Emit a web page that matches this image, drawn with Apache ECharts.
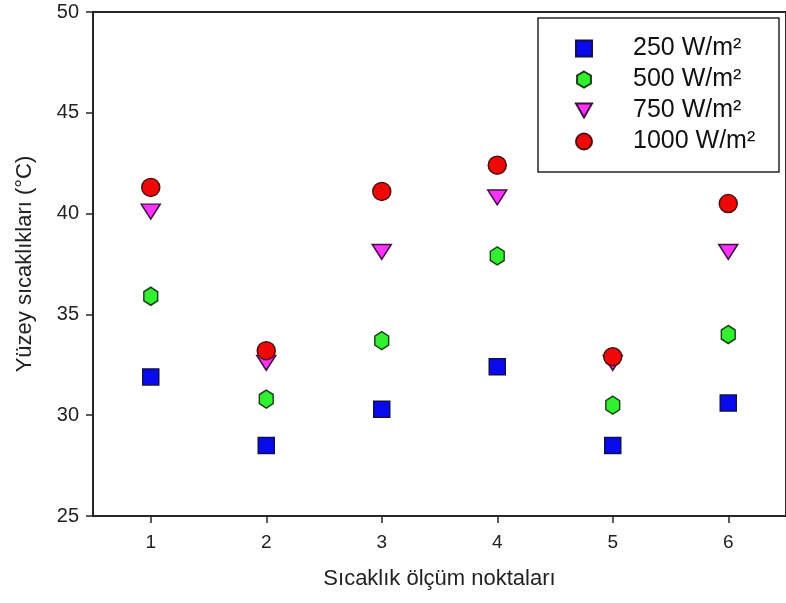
<!DOCTYPE html>
<html>
<head>
<meta charset="utf-8">
<script src="https://cdn.jsdelivr.net/npm/echarts@6/dist/echarts.min.js"></script>
<style>
  html, body { margin: 0; padding: 0; background: #fff; }
  #chart { width: 786px; height: 603px; }
</style>
</head>
<body>
<div id="chart"></div>
<script>
// Measurement points (x) and surface temperatures (°C) per irradiance level
const points = [1, 2, 3, 4, 5, 6];
const xTicks = ['1', '2', '3', '4', '5', '6'];
const yTicks = [25, 30, 35, 40, 45, 50];
const seriesNames = ['250 W/m²', '500 W/m²', '750 W/m²', '1000 W/m²'];
const temp250 = [31.9, 28.5, 30.3, 32.4, 28.5, 30.6];
const temp500 = [35.9, 30.8, 33.7, 37.9, 30.5, 34.0];
const temp750 = [40.1, 32.6, 38.1, 40.8, 32.6, 38.1];
const temp1000 = [41.3, 33.2, 41.1, 42.4, 32.9, 40.5];

const FONT = '"Liberation Sans", Arial, sans-serif';
const hexagon = 'path://M0,-1 L0.866,-0.5 L0.866,0.5 L0,1 L-0.866,0.5 L-0.866,-0.5 Z';
const triDown = 'path://M-1,-0.85 L1,-0.85 L0,0.9 Z';

function pairs(vals) {
  return points.map((p, i) => [p, vals[i]]);
}

function makeSeries(name, vals, symbol, size, fill, edge) {
  return {
    name: name,
    type: 'scatter',
    data: pairs(vals),
    symbol: symbol,
    symbolSize: size,
    symbolKeepAspect: true,
    itemStyle: { color: fill, borderColor: edge, borderWidth: 1.5, opacity: 1 },
    emphasis: { disabled: true }
  };
}

const chart = echarts.init(document.getElementById('chart'), null, { renderer: 'canvas' });

chart.setOption({
  animation: false,
  backgroundColor: '#ffffff',
  grid: {
    left: 93, right: -8, top: 12, bottom: 87,
    show: true, borderColor: '#262626', borderWidth: 2
  },
  xAxis: {
    type: 'value',
    min: 0.5, max: 6.5,
    interval: 1,
    name: 'Sıcaklık ölçüm noktaları',
    nameLocation: 'middle',
    nameGap: 52,
    nameTextStyle: { fontFamily: FONT, fontSize: 22, color: '#222' },
    axisLine: { show: true, onZero: false, lineStyle: { color: '#262626', width: 2 } },
    axisTick: {
      show: true, inside: false, length: 7,
      lineStyle: { color: '#262626', width: 1.5 },
      customValues: points
    },
    axisLabel: {
      fontFamily: FONT, fontSize: 19, color: '#222', margin: 17,
      customValues: points,
      formatter: v => xTicks[points.indexOf(v)] ?? ''
    },
    splitLine: { show: false }
  },
  yAxis: {
    type: 'value',
    min: yTicks[0], max: yTicks[yTicks.length - 1],
    interval: 5,
    name: 'Yüzey sıcaklıkları (°C)',
    nameLocation: 'middle',
    nameGap: 57,
    nameTextStyle: { fontFamily: FONT, fontSize: 22, color: '#222' },
    axisLine: { show: true, lineStyle: { color: '#262626', width: 2 } },
    axisTick: { show: true, inside: false, length: 7, lineStyle: { color: '#262626', width: 1.5 } },
    axisLabel: { fontFamily: FONT, fontSize: 20, color: '#222', margin: 14 },
    splitLine: { show: false }
  },
  graphic: [{
    type: 'rect',
    z: 5,
    shape: { x: 538, y: 18, width: 241, height: 154 },
    style: { fill: '#ffffff', stroke: '#262626', lineWidth: 1.5 }
  }],
  legend: {
    orient: 'vertical',
    left: 575, top: 36,
    padding: 0,
    z: 10,
    itemWidth: 16,
    itemHeight: 16,
    itemGap: 6,
    selectedMode: false,
    textStyle: {
      fontFamily: FONT, fontSize: 25, lineHeight: 25, color: '#111',
      padding: [0, 0, 0, 36]
    },
    data: seriesNames
  },
  series: [
    makeSeries(seriesNames[0], temp250, 'rect', [16, 16], '#0a0aee', '#101050'),
    makeSeries(seriesNames[1], temp500, hexagon, [16, 18], '#30f030', '#184018'),
    makeSeries(seriesNames[2], temp750, triDown, [19, 17], '#ff33ff', '#401040'),
    makeSeries(seriesNames[3], temp1000, 'circle', 18, '#ee0808', '#501010')
  ]
});
</script>
</body>
</html>
